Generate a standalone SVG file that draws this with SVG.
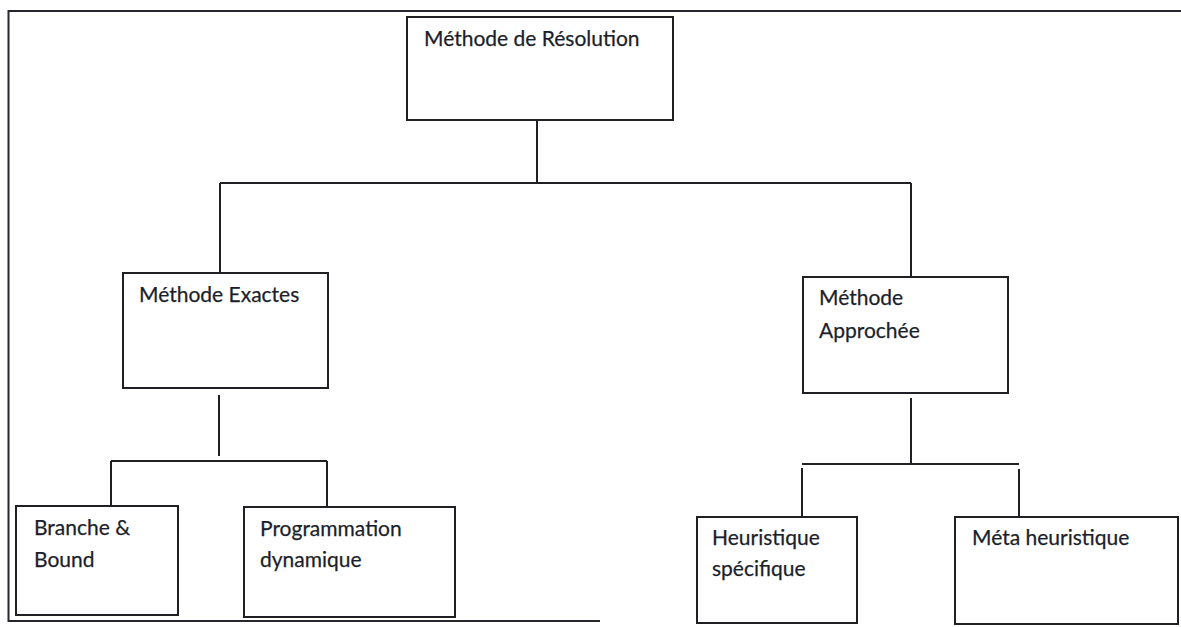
<svg xmlns="http://www.w3.org/2000/svg" width="1181" height="627" viewBox="0 0 1181 627">
  <style>
    .box { fill: #ffffff; stroke: #1f1f24; stroke-width: 2; }
    .link { fill: none; stroke: #1f1f24; stroke-width: 2; }
    .frame { fill: none; stroke: #26262c; stroke-width: 2; }
    .label { font-family: Lato, "Open Sans", sans-serif; font-size: 21px; fill: #1c1f2b; stroke: #1c1f2b; stroke-width: 0.25; }
  </style>
  <rect width="1181" height="627" fill="#ffffff"/>

  <!-- outer page frame -->
  <path class="frame" d="M1181 11 H8.5 V621 H600"/>

  <!-- connectors -->
  <g id="connectors">
    <path class="link" d="M537 120 V183"/>
    <path class="link" d="M220 183 H911"/>
    <path class="link" d="M220 183 V273"/>
    <path class="link" d="M911 183 V277"/>
    <path class="link" d="M219 395 V456"/>
    <path class="link" d="M111 461 H327"/>
    <path class="link" d="M111 461 V506"/>
    <path class="link" d="M327 461 V507"/>
    <path class="link" d="M911 398 V464"/>
    <path class="link" d="M802 464 H1019"/>
    <path class="link" d="M802 468 V517"/>
    <path class="link" d="M1019 469 V517"/>
  </g>

  <g id="methode-resolution">
    <rect class="box" x="407" y="17" width="266" height="103"/>
    <text class="label" x="424" y="46">Méthode de Résolution</text>
  </g>

  <g id="methode-exactes">
    <rect class="box" x="123" y="273" width="205" height="115"/>
    <text class="label" x="139" y="302">Méthode Exactes</text>
  </g>

  <g id="methode-approchee">
    <rect class="box" x="803" y="277" width="205" height="116"/>
    <text class="label" x="819" y="305">Méthode</text>
    <text class="label" x="819" y="338">Approchée</text>
  </g>

  <g id="branche-bound">
    <rect class="box" x="16" y="506" width="162" height="109"/>
    <text class="label" x="34" y="535">Branche &amp;</text>
    <text class="label" x="34" y="567">Bound</text>
  </g>

  <g id="programmation-dynamique">
    <rect class="box" x="244" y="507" width="211" height="110"/>
    <text class="label" x="260" y="536">Programmation</text>
    <text class="label" x="260" y="567">dynamique</text>
  </g>

  <g id="heuristique-specifique">
    <rect class="box" x="697" y="517" width="160" height="106"/>
    <text class="label" x="712" y="545">Heuristique</text>
    <text class="label" x="712" y="576">spécifique</text>
  </g>

  <g id="meta-heuristique">
    <rect class="box" x="955" y="517" width="223" height="107"/>
    <text class="label" x="972" y="545">Méta heuristique</text>
  </g>
</svg>
